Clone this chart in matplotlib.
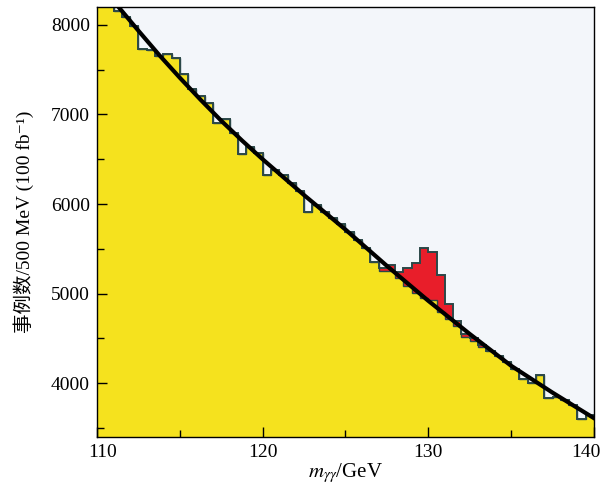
import numpy as np
import matplotlib.pyplot as plt
from matplotlib.transforms import ScaledTranslation

plt.rcParams['mathtext.fontset'] = 'stix'

# bin edges, 500 MeV bins from 110 to 140 GeV
edges = np.arange(110.0, 140.01, 0.5)

# background (yellow) per bin
bkg = [8450, 8330, 8150, 8090, 7990, 7735, 7720, 7650, 7680, 7630,
       7455, 7290, 7210, 7130, 6910, 6945, 6790, 6555, 6640, 6570,
       6320, 6380, 6320, 6230, 6150, 5910, 5990, 5915, 5850, 5775,
       5690, 5600, 5515, 5350, 5250, 5250, 5170, 5090, 5010, 4950,
       4930, 4800, 4720, 4640, 4520, 4470, 4410, 4360, 4300, 4240,
       4160, 4045, 4000, 4090, 3830, 3850, 3815, 3755, 3600, 3640]

# signal (red) per bin, stacked on background
sig = [0] * 34 + [40, 65, 70, 200, 330, 560, 530, 410, 170, 60,
                  35, 40, 20] + [0] * 13

# background fit curve
fit_x = [111.0, 111.3, 112.5, 113.75, 115.0, 116.25, 117.5, 118.75,
         120.0, 122.5, 125.0, 127.5, 130.0, 132.5, 135.0, 137.5, 140.0]
fit_y = [8265, 8200, 7935, 7665, 7410, 7165, 6930, 6710,
         6500, 6100, 5715, 5310, 4920, 4550, 4195, 3895, 3610]

total = np.array(bkg) + np.array(sig)

fig = plt.figure(figsize=(6.04, 4.95), dpi=100)
ax = fig.add_axes([0.1606, 0.1172, 0.8228, 0.8687])
ax.set_facecolor('#f3f6fa')

edge_c = '#2b4848'
ax.stairs(total, edges, baseline=0, fill=True, color='#e81e2a')
ax.stairs(bkg, edges, baseline=0, fill=True, color='#f5e21e')
ax.stairs(total, edges, baseline=None, color=edge_c, lw=1.4)
ax.stairs(bkg, edges, baseline=None, color=edge_c, lw=1.0)
ax.plot(fit_x, fit_y, color='black', lw=3)

ax.set_xlim(110, 140)
ax.set_ylim(3400, 8200)
ax.set_xticks([110, 120, 130, 140])
ax.set_xticks([115, 125, 135], minor=True)
ax.set_yticks([4000, 5000, 6000, 7000, 8000])
ax.set_yticks(np.arange(3500, 8200, 500), minor=True)
ax.tick_params(which='both', direction='in', top=False, right=False,
               labelsize=14, pad=5)
ax.tick_params(which='major', length=7, width=1)
ax.tick_params(which='minor', length=5, width=1)
for lab in ax.get_xticklabels() + ax.get_yticklabels():
    lab.set_family('Liberation Serif')
# keep "140" inside the figure, as in the original
xl = ax.get_xticklabels()
xl[-1].set_transform(xl[-1].get_transform()
                     + ScaledTranslation(-6 / 72, 0, fig.dpi_scale_trans))
xl[0].set_transform(xl[0].get_transform()
                    + ScaledTranslation(4 / 72, 0, fig.dpi_scale_trans))
for s in ax.spines.values():
    s.set_linewidth(1.0)

ax.set_xlabel(r'$m_{\gamma\gamma}$/GeV', fontsize=15,
              family='Liberation Serif', labelpad=0)
ax.set_ylabel('事例数/500 MeV (100 fb⁻¹)', fontsize=14,
              family=['Liberation Serif', 'Noto Sans CJK SC', 'DejaVu Sans'],
              labelpad=12)

fig.savefig('out.png', dpi=100)
